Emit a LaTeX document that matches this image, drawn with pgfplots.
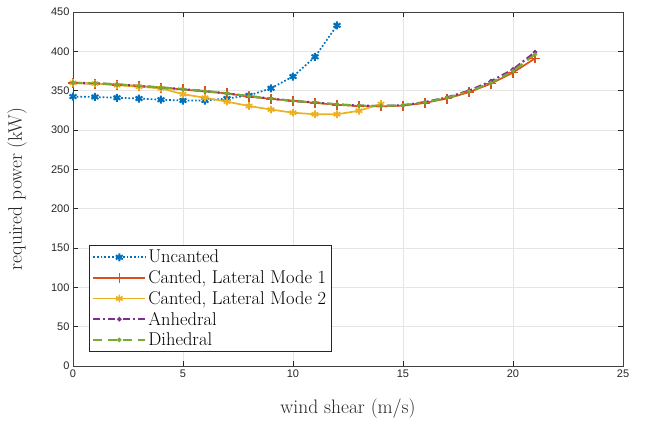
\documentclass[border=0pt]{standalone}
\usepackage{fontspec}
\usepackage{pgfplots}
\pgfplotsset{compat=1.18}
\newfontfamily\tickfont{Liberation Sans}

\definecolor{mblue}{rgb}{0,0.447,0.741}
\definecolor{morange}{rgb}{0.85,0.325,0.098}
\definecolor{myellow}{rgb}{0.929,0.694,0.125}
\definecolor{mpurple}{rgb}{0.494,0.184,0.556}
\definecolor{mgreen}{rgb}{0.466,0.674,0.188}

\begin{document}
\begin{tikzpicture}
\path[use as bounding box] (-73pt,-58pt) rectangle (573pt,366pt);
\begin{axis}[
  scale only axis, width=550pt, height=354pt,
  xmin=0, xmax=25, ymin=0, ymax=450,
  xtick={0,5,...,25}, ytick={0,50,...,450},
  grid=major, major grid style={gray!20, line width=0.6pt},
  axis line style={black!75, line width=0.6pt},
  tick style={black!85, line width=0.6pt},
  tick align=inside, major tick length=5pt,
  /pgf/number format/assume math mode=true,
  tick label style={font=\tickfont\fontsize{11}{13}\selectfont, black!85},
  xlabel={wind shear (m/s)}, ylabel={required power (kW)},
  label style={font=\fontsize{19.5}{22}\selectfont, black!85},
  xlabel style={at={(axis description cs:0.5,0)}, anchor=base, yshift=-47pt},
  ylabel style={at={(axis description cs:0,0.5)}, anchor=base, yshift=51pt},
  legend cell align=left,
  legend style={at={(0.029,0.04)}, anchor=south west,
    font=\fontsize{18.5}{21}\selectfont, draw=black!85, line width=0.6pt,
    row sep=2.2pt, inner xsep=3pt, inner ysep=2.5pt},
  legend image code/.code={%
    \draw[mark repeat=2,mark phase=2] plot coordinates {(0pt,0pt) (26pt,0pt) (52pt,0pt)};},
]
\addplot[mblue, line width=1.7pt, dotted, mark=asterisk, mark size=4pt,
  mark options={solid, line width=2pt}] coordinates {
  (0,342.5) (1,342) (2,341) (3,340) (4,338.5) (5,337.5) (6,337.5)
  (7,340) (8,344) (9,353) (10,368) (11,393) (12,433)};
\addlegendentry{Uncanted}
\addplot[morange, line width=1.7pt, mark=+, mark size=5pt,
  mark options={solid, line width=1.6pt}] coordinates {
  (0,359.5) (1,359) (2,357.5) (3,356) (4,354) (5,351.5) (6,349) (7,346.5)
  (8,342.5) (9,339.5) (10,337) (11,334.5) (12,332) (13,330.5) (14,330)
  (15,331) (16,334.5) (17,340) (18,348) (19,359) (20,373) (21,391)};
\addlegendentry{Canted, Lateral Mode 1}
\addplot[myellow, line width=1.7pt, mark=asterisk, mark size=3.8pt,
  mark options={solid, line width=1.6pt}] coordinates {
  (0,360) (1,359) (2,357) (3,355) (4,353) (5,345.5) (6,341) (7,336)
  (8,330.5) (9,326) (10,322) (11,320) (12,320) (13,324.5) (14,333)};
\addlegendentry{Canted, Lateral Mode 2}
\addplot[mpurple, line width=2.1pt, dash pattern=on 7pt off 3pt on 2pt off 3pt,
  mark=*, mark size=1pt, mark options={solid}] coordinates {
  (0,360) (1,359.5) (2,358) (3,356) (4,354) (5,352) (6,349.5) (7,346.5)
  (8,343) (9,340) (10,337) (11,335) (12,332.5) (13,331) (14,330.5)
  (15,331.5) (16,335.5) (17,341.5) (18,350) (19,362) (20,377) (21,399)};
\addlegendentry{Anhedral}
\addplot[mgreen, line width=2.1pt, dash pattern=on 9pt off 6pt,
  mark=*, mark size=1pt, mark options={solid}] coordinates {
  (0,360) (1,359.5) (2,358) (3,356) (4,354) (5,352) (6,349.5) (7,346.5)
  (8,343) (9,340) (10,337) (11,335) (12,332.5) (13,331) (14,330.5)
  (15,331.5) (16,335) (17,341) (18,349) (19,360) (20,375) (21,396)};
\addlegendentry{Dihedral}
\end{axis}
\end{tikzpicture}
\end{document}
